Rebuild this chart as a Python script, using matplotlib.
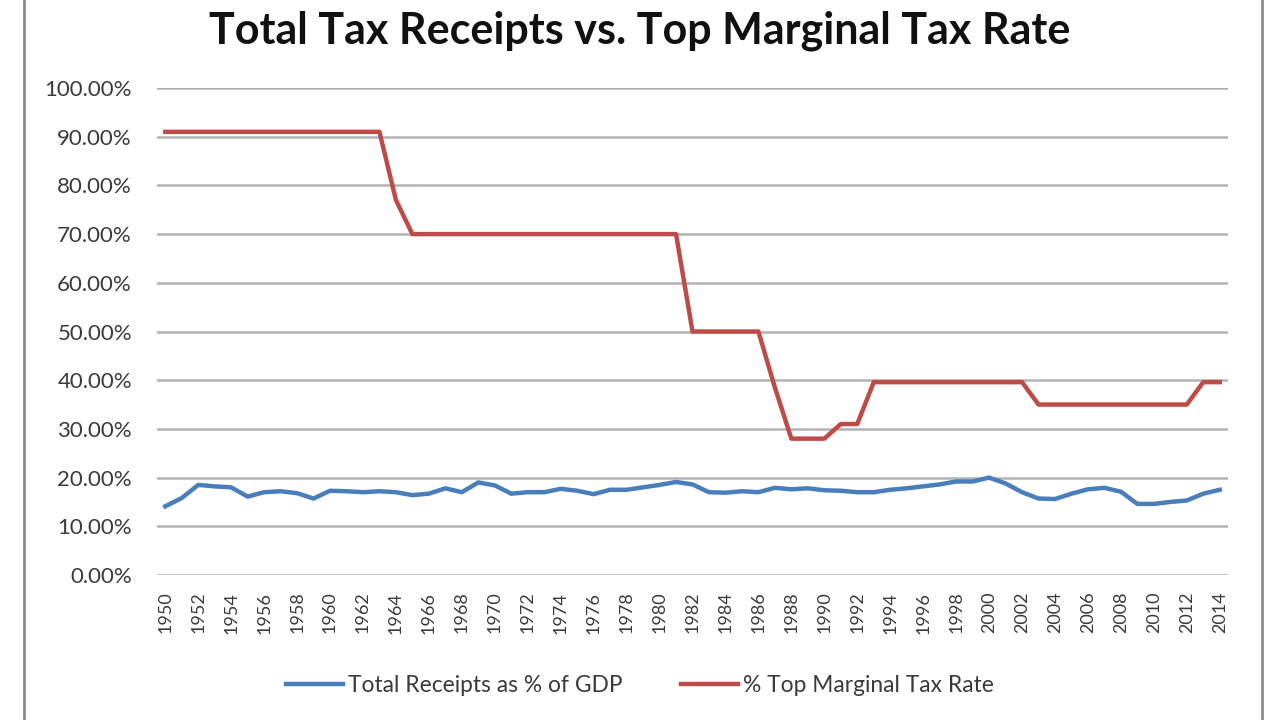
import matplotlib.pyplot as plt
import matplotlib.ticker as mticker
from matplotlib.lines import Line2D
import numpy as np

plt.rcParams['font.family'] = ['Lato', 'DejaVu Sans']

years = list(range(1950, 2015))

# Total receipts as % of GDP
receipts = [14.1, 15.8, 18.5, 18.2, 18.0, 16.1, 17.0, 17.2, 16.8, 15.7,
            17.3, 17.2, 17.0, 17.2, 17.0, 16.4, 16.7, 17.8, 17.0, 19.0,
            18.4, 16.7, 17.0, 17.0, 17.7, 17.3, 16.6, 17.5, 17.5, 18.0,
            18.5, 19.1, 18.6, 17.0, 16.9, 17.2, 17.0, 17.9, 17.6, 17.8,
            17.4, 17.3, 17.0, 17.0, 17.5, 17.8, 18.2, 18.6, 19.2, 19.2,
            20.0, 18.8, 17.0, 15.7, 15.6, 16.7, 17.6, 17.9, 17.1, 14.6,
            14.6, 15.0, 15.3, 16.7, 17.5]

# Top marginal tax rate (%)
top_rate = [91] * 14 + [77] + [70] * 17 + [50] * 5 + [38.5] + [28] * 3 + \
           [31] * 2 + [39.6] * 10 + [35] * 10 + [39.6] * 2

legend_labels = ['Total Receipts as % of GDP', '% Top Marginal Tax Rate']

fig = plt.figure(figsize=(12.8, 7.2), dpi=100)
ax = fig.add_axes([157 / 1280, 1 - 575 / 720, (1228 - 157) / 1280, (575 - 88) / 720])

ax.plot(years, receipts, color='#4a7ebb', linewidth=3.2, label=legend_labels[0],
        solid_joinstyle='round')
ax.plot(years, top_rate, color='#be4b48', linewidth=3.2, label=legend_labels[1],
        solid_joinstyle='round')

ax.set_xlim(1949.5, 2014.5)
ax.set_ylim(0, 100)
ax.set_yticks(np.arange(0, 101, 10))
ax.yaxis.set_major_formatter(mticker.FuncFormatter(lambda v, p: f'{v:.2f}%'))
ax.set_xticks(years[::2])
ax.set_xticklabels([str(y) for y in years[::2]], rotation=90)
ax.tick_params(axis='both', length=0, colors='#3a3a3a')
ax.tick_params(axis='y', pad=18, labelsize=16)
ax.tick_params(axis='x', pad=12, labelsize=13)
ax.grid(axis='y', color='#b3b3b3', linewidth=1.8)
ax.set_axisbelow(True)
for s in ax.spines.values():
    s.set_visible(False)

fig.suptitle('Total Tax Receipts vs. Top Marginal Tax Rate', x=0.5, y=0.985,
             fontsize=31, fontweight='bold', color='#111111')

fig.legend(loc='center', bbox_to_anchor=(0.5, 1 - 685 / 720), ncol=2, frameon=False,
           fontsize=16.4, handlelength=2.5, handletextpad=0.2, columnspacing=2.6,
           labelcolor='#3a3a3a')

# border lines from the screenshot
fig.add_artist(Line2D([24 / 1280, 24 / 1280], [0, 1], color='#8c8c8c', linewidth=2))
fig.add_artist(Line2D([1262 / 1280, 1262 / 1280], [0, 1], color='#8c8c8c', linewidth=2))

fig.savefig('out.png', dpi=100, facecolor='white')
